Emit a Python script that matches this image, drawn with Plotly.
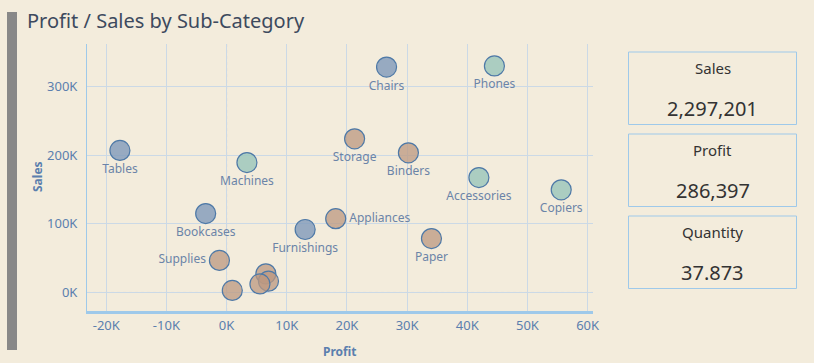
import plotly.graph_objects as go

# ---------------- data ----------------
sub_categories = ["Accessories", "Appliances", "Art", "Binders", "Bookcases", "Chairs",
                  "Copiers", "Envelopes", "Fasteners", "Furnishings", "Labels", "Machines",
                  "Paper", "Phones", "Storage", "Supplies", "Tables"]
categories = ["Technology", "Office Supplies", "Office Supplies", "Office Supplies", "Furniture",
              "Furniture", "Technology", "Office Supplies", "Office Supplies", "Furniture",
              "Office Supplies", "Technology", "Office Supplies", "Technology", "Office Supplies",
              "Office Supplies", "Furniture"]
sales = [167380, 107532, 27119, 203413, 114880, 328449, 149528, 16476, 3024, 91705,
         12486, 189239, 78479, 330007, 223844, 46674, 206966]
profit = [41937, 18138, 6528, 30222, -3473, 26590, 55618, 6964, 950, 13059,
          5546, 3385, 34054, 44516, 21279, -1189, -17725]
label_pos = ["bottom center", "middle right", "none", "bottom center", "bottom center",
             "bottom center", "bottom center", "none", "none", "bottom center",
             "none", "bottom center", "bottom center", "bottom center", "bottom center",
             "middle left", "bottom center"]

x_tick_vals = [-20000, -10000, 0, 10000, 20000, 30000, 40000, 50000, 60000]
x_tick_text = ["-20K", "-10K", "0K", "10K", "20K", "30K", "40K", "50K", "60K"]
y_tick_vals = [0, 100000, 200000, 300000]
y_tick_text = ["0K", "100K", "200K", "300K"]

kpi_labels = ["Sales", "Profit", "Quantity"]
kpi_values = ["2,297,201", "286,397", "37.873"]

# ---------------- styling ----------------
BG = "#f3ecdc"
cat_fill = {"Furniture": "rgba(128,154,186,0.8)",
            "Office Supplies": "rgba(188,152,128,0.75)",
            "Technology": "rgba(158,200,188,0.85)"}
OUTLINE = "#4e79a7"
TICK_COLOR = "#5b7fae"
LABEL_COLOR = "#6b84a8"
FONT = "Noto Sans"

W, H = 814, 363
ML, MR, MT, MB = 87, 221, 44, 52
PW, PH = W - ML - MR, H - MT - MB


def px_x(p):
    return (p - ML) / PW


def px_y(p):
    return 1 - (p - MT) / PH


fig = go.Figure()

for cat in ["Furniture", "Office Supplies", "Technology"]:
    for pos_group in ["bottom center", "middle right", "middle left", "none"]:
        idx = [i for i in range(len(sub_categories))
               if categories[i] == cat and label_pos[i] == pos_group]
        if not idx:
            continue
        fig.add_trace(go.Scatter(
            x=[profit[i] for i in idx],
            y=[sales[i] for i in idx],
            mode="markers+text" if pos_group != "none" else "markers",
            text=[sub_categories[i] for i in idx] if pos_group != "none" else None,
            textposition=pos_group if pos_group != "none" else None,
            textfont=dict(family=FONT, size=12, color=LABEL_COLOR),
            marker=dict(size=20, color=cat_fill[cat],
                        line=dict(color=OUTLINE, width=1.2)),
            showlegend=False,
            hoverinfo="text",
            hovertext=[sub_categories[i] for i in idx],
        ))

shapes = []
# zero reference lines (dashed)
shapes.append(dict(type="line", xref="x", yref="paper", x0=0, x1=0, y0=0, y1=1,
                   line=dict(color="#c8bcbc", width=1, dash="dot"), layer="below"))
shapes.append(dict(type="line", xref="paper", yref="y", x0=0, x1=1, y0=0, y1=0,
                   line=dict(color="#c8bcbc", width=1, dash="dot"), layer="below"))
# left grey bar
shapes.append(dict(type="rect", xref="paper", yref="paper",
                   x0=px_x(7), x1=px_x(17), y0=px_y(350), y1=px_y(12),
                   fillcolor="#888888", line=dict(width=0)))
# KPI boxes
box_tops = [52, 134, 216]
box_h = 72.5
annotations = []
for top, lab, val in zip(box_tops, kpi_labels, kpi_values):
    shapes.append(dict(type="rect", xref="paper", yref="paper",
                       x0=px_x(628.5), x1=px_x(796.5), y0=px_y(top + box_h), y1=px_y(top),
                       line=dict(color="#9ec9ea", width=1), fillcolor="rgba(0,0,0,0)"))
    annotations.append(dict(xref="paper", yref="paper", x=px_x(712.5), y=px_y(top + 16),
                            text=lab, showarrow=False, xanchor="center", yanchor="middle",
                            font=dict(family=FONT, size=15, color="#333333")))
    annotations.append(dict(xref="paper", yref="paper", x=px_x(712.5), y=px_y(top + 56),
                            text=val, showarrow=False, xanchor="center", yanchor="middle",
                            font=dict(family=FONT, size=20, color="#333333")))

# title
annotations.append(dict(xref="paper", yref="paper", x=px_x(25), y=px_y(20),
                        text="Profit / Sales by Sub-Category", showarrow=False,
                        xanchor="left", yanchor="middle",
                        font=dict(family=FONT, size=20, color="#3d4a5e")))
# axis titles
annotations.append(dict(xref="paper", yref="paper", x=px_x(340), y=px_y(351),
                        text="<b>Profit</b>", showarrow=False, xanchor="center", yanchor="middle",
                        font=dict(family=FONT, size=12, color=TICK_COLOR)))
annotations.append(dict(xref="paper", yref="paper", x=px_x(37), y=px_y(177),
                        text="<b>Sales</b>", showarrow=False, xanchor="center", yanchor="middle",
                        textangle=-90,
                        font=dict(family=FONT, size=12, color=TICK_COLOR)))

fig.update_layout(
    width=W, height=H,
    margin=dict(l=ML, r=MR, t=MT, b=MB),
    paper_bgcolor=BG, plot_bgcolor=BG,
    shapes=shapes, annotations=annotations,
    font=dict(family=FONT),
    hovermode="closest",
)
fig.update_xaxes(range=[-23200, 60900], tickvals=x_tick_vals, ticktext=x_tick_text,
                 showgrid=True, gridcolor="#cbd9e6", gridwidth=1, zeroline=False,
                 showline=True, linecolor="#9ec9ea", linewidth=3,
                 tickfont=dict(family=FONT, size=13, color=TICK_COLOR), ticks="")
fig.update_yaxes(range=[-27000, 362000], tickvals=y_tick_vals, ticktext=y_tick_text,
                 showgrid=True, gridcolor="#cbd9e6", gridwidth=1, zeroline=False,
                 showline=True, linecolor="#9ec9ea", linewidth=1,
                 tickfont=dict(family=FONT, size=13, color=TICK_COLOR), ticks="",
                 ticklabelstandoff=6)

fig.write_html("out.html", config={"displayModeBar": False})

# remove the browser's default page margin so the figure fills the window exactly
with open("out.html", "r", encoding="utf-8") as f:
    html = f.read()
html = html.replace("<head>", "<head><style>html,body{margin:0;padding:0;background:%s;}</style>" % BG, 1)
with open("out.html", "w", encoding="utf-8") as f:
    f.write(html)
